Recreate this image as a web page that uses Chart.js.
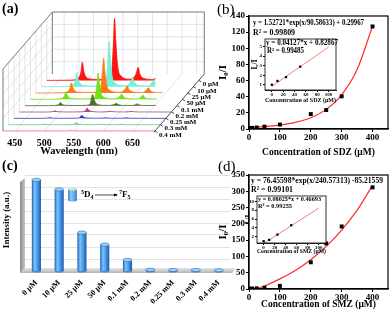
<!DOCTYPE html>
<html>
<head>
<meta charset="utf-8">
<script src="https://cdn.jsdelivr.net/npm/chart.js@4.4.1/dist/chart.umd.min.js"></script>
<style>
body { margin: 0; background: #fff; }
#fig { position: relative; width: 392px; height: 317px; overflow: hidden; background: #fff; }
#fig canvas { position: absolute; }
.tag { position: absolute; font-family: 'Liberation Serif', serif; line-height: 1; color: #000; }
</style>
</head>
<body>
<div id="fig">
  <canvas id="specChart" width="232" height="158" style="left:0;top:0"></canvas>
  <canvas id="barChart" width="240" height="159" style="left:0;top:158px"></canvas>
  <canvas id="sdzChart" width="196" height="158" style="left:196px;top:0"></canvas>
  <canvas id="smzChart" width="196" height="159" style="left:196px;top:158px"></canvas>
  <canvas id="sdzInset" width="92" height="70" style="left:248px;top:35px"></canvas>
  <canvas id="smzInset" width="92" height="66" style="left:240px;top:192px"></canvas>
  <div class="tag" style="left:2px;top:2px;font-size:14px;font-weight:bold">(a)</div>
  <div class="tag" style="left:217px;top:2px;font-size:15px">(b)</div>
  <div class="tag" style="left:2px;top:159px;font-size:14px;font-weight:bold">(c)</div>
  <div class="tag" style="left:218px;top:159px;font-size:15px">(d)</div>
</div>
<script>
// ---- data ----
const concLabels = ['0 μM', '10 μM', '25 μM', '50 μM', '0.1 mM', '0.2 mM', '0.25 mM', '0.3 mM', '0.4 mM'];

// (a) emission spectra (a.u.), one array per concentration
const wavelengths = [430, 470, 480, 485, 488, 490, 493, 497, 505, 525, 535, 540, 543, 545, 547, 550, 556, 570, 578, 582, 585, 588, 595, 608, 615, 618, 621, 624, 632, 645, 649, 652, 660, 688];
const spec0uM   = [0, 0.5, 2, 6, 14, 29, 14, 5, 2, 1.5, 4, 12, 60, 100, 65, 25, 7, 2, 5, 12, 21, 10, 3, 1.5, 4, 10, 16, 7, 2, 1.5, 3, 2, 1, 0];
const spec10uM  = [0, 0.4, 1.5, 4.5, 10, 23, 10, 4, 1.5, 1.1, 3, 9, 44, 73, 47, 18, 5, 1.5, 3.5, 9, 15, 7, 2, 1, 3, 7, 11, 5, 1.5, 1, 2, 1.5, 0.7, 0];
const spec25uM  = [0, 0.3, 1.1, 3.4, 8, 16, 8, 3, 1.1, 0.8, 2.2, 7, 34, 56, 36, 14, 4, 1.1, 2.8, 7, 11.5, 5.5, 1.7, 0.8, 2.2, 5.5, 8.5, 3.9, 1.1, 0.8, 1.7, 1.1, 0.5, 0];
const spec50uM  = [0, 0.2, 0.8, 2.5, 5.8, 12, 5.8, 2.1, 0.8, 0.6, 1.7, 5, 25, 42, 27, 10, 3, 0.8, 2.1, 5, 8.8, 4.2, 1.3, 0.6, 1.7, 4.2, 6.7, 2.9, 0.8, 0.6, 1.3, 0.8, 0.4, 0];
const spec01mM  = [0, 0.1, 0.4, 1.1, 2.5, 5.2, 2.5, 0.9, 0.4, 0.3, 0.7, 2.2, 11, 18, 11.5, 4.5, 1.3, 0.4, 0.9, 2.2, 3.8, 1.8, 0.5, 0.3, 0.7, 1.8, 2.9, 1.3, 0.4, 0.3, 0.5, 0.4, 0.2, 0];
const spec02mM  = [0, 0, 0.1, 0.4, 0.9, 1.9, 0.9, 0.3, 0.1, 0.1, 0.3, 0.8, 3.9, 6.5, 4.2, 1.6, 0.5, 0.1, 0.3, 0.8, 1.4, 0.7, 0.2, 0.1, 0.3, 0.7, 1.0, 0.5, 0.1, 0.1, 0.2, 0.1, 0.1, 0];
const spec025mM = [0, 0, 0.1, 0.3, 0.7, 1.5, 0.7, 0.3, 0.1, 0.1, 0.2, 0.6, 3, 5, 3.2, 1.2, 0.4, 0.1, 0.3, 0.6, 1.1, 0.5, 0.2, 0.1, 0.2, 0.5, 0.8, 0.4, 0.1, 0.1, 0.2, 0.1, 0, 0];
const spec03mM  = [0, 0, 0, 0.2, 0.4, 0.9, 0.4, 0.2, 0, 0, 0.1, 0.4, 1.8, 3, 1.9, 0.7, 0.2, 0, 0.2, 0.4, 0.6, 0.3, 0.1, 0, 0.1, 0.3, 0.5, 0.2, 0, 0, 0.1, 0, 0, 0];
const spec04mM  = [0, 0, 0, 0.1, 0.1, 0.3, 0.1, 0, 0, 0, 0, 0.1, 0.6, 1, 0.6, 0.2, 0.1, 0, 0, 0.1, 0.2, 0.1, 0, 0, 0, 0.1, 0.2, 0.1, 0, 0, 0, 0, 0, 0];
const waveTicks = [450, 500, 550, 600, 650];

// (c) 5D4 -> 7F5 intensity (a.u.)
const peak545 = [7.6, 6.8, 3.2, 2.2, 0.92, 0.1, 0.08, 0.08, 0.06];
const barGrid = [1, 2, 3, 4, 5, 6, 7, 8];

// (b) SDZ
const concSDZ = [0, 10, 25, 50, 100, 200, 250, 300, 400];
const ratioSDZ = [1.0, 1.4, 1.8, 2.9, 5.5, 18.5, 23.5, 40.5, 127];
const fitSDZx = [0, 50, 100, 150, 200, 250, 300, 350, 400];
const fitSDZy = [1.8, 2.9, 4.9, 8.2, 14.0, 24.3, 42.3, 73.6, 127.6];
const lowSDZx = [0, 10, 25, 50];
const lowSDZy = [1.0, 1.4, 1.8, 2.9];
const linSDZx = [0, 100];
const linSDZy = [0.83, 4.96];
const sdzYTicks = [0, 20, 40, 60, 80, 100, 120, 140];
const sdzInsetYTicks = [1, 2, 3, 4, 5];

// (d) SMZ
const concSMZ = [0, 10, 25, 50, 100, 200, 250, 300, 400];
const ratioSMZ = [1.0, 1.5, 2.0, 4.0, 9.5, 82, 140, 192, 312];
const fitSMZx = [25, 50, 100, 150, 200, 250, 300, 350, 400];
const fitSMZy = [0, 9, 31, 57, 90, 131, 181, 242, 318];
const lowSMZx = [0, 10, 25, 50];
const lowSMZy = [1.0, 1.3, 2.5, 4.6];
const linSMZx = [0, 100];
const linSMZy = [0.47, 8.49];
const smzYTicks = [0, 50, 100, 150, 200, 250, 300, 350];
const smzInsetYTicks = [2, 4, 6, 8, 10];

const concTicks = [0, 100, 200, 300, 400];
const lowConcTicks = [0, 20, 40, 60, 80, 100];

// ---- shared setup ----
const serif = "'Liberation Serif', 'DejaVu Serif', serif";
Chart.defaults.font.family = serif;
Chart.defaults.color = '#000';
Chart.defaults.animation = false;
Chart.defaults.responsive = false;
Chart.defaults.maintainAspectRatio = false;
Chart.defaults.devicePixelRatio = 1;
Chart.defaults.events = [];
Chart.defaults.plugins.legend.display = false;
Chart.defaults.plugins.tooltip.enabled = false;

const pts = (xs, ys) => xs.map((x, i) => ({ x, y: ys[i] }));
const fixTicks = list => s => { s.ticks = list.map(v => ({ value: v })); };

function boxPlugin(width, white) {
  return {
    id: 'box',
    beforeDatasetsDraw(chart) {
      if (!white) return;
      const { ctx, chartArea: a } = chart;
      ctx.save();
      ctx.fillStyle = '#fff';
      ctx.fillRect(a.left, a.top, a.right - a.left, a.bottom - a.top);
      ctx.restore();
    },
    afterDatasetsDraw(chart) {
      const { ctx, chartArea: a } = chart;
      ctx.save();
      ctx.strokeStyle = '#000';
      ctx.lineWidth = width;
      ctx.strokeRect(a.left, a.top, a.right - a.left, a.bottom - a.top);
      ctx.restore();
    }
  };
}

function textPlugin(items) {
  return {
    id: 'eqText',
    afterDatasetsDraw(chart) {
      const { ctx, chartArea: a } = chart;
      ctx.save();
      ctx.fillStyle = '#000';
      ctx.textBaseline = 'middle';
      items.forEach(t => {
        ctx.font = `bold ${t.size}px ${serif}`;
        ctx.fillText(t.text, a.left + t.dx, a.top + t.dy, t.w);
      });
      ctx.restore();
    }
  };
}

function fitChart(id, cfg) {
  return new Chart(document.getElementById(id), {
    type: 'scatter',
    data: {
      datasets: [
        { type: 'line', data: pts(cfg.fitX, cfg.fitY), borderColor: cfg.lineColor, borderWidth: cfg.lineWidth,
          pointRadius: 0, cubicInterpolationMode: 'monotone', fill: false, order: 2 },
        { data: pts(cfg.x, cfg.y), pointStyle: 'rect', pointRadius: cfg.pointRadius,
          backgroundColor: '#000', borderColor: '#000', borderWidth: 0, order: 1 }
      ]
    },
    options: {
      layout: { padding: cfg.padding },
      scales: {
        x: {
          type: 'linear', min: cfg.xMin, max: cfg.xMax,
          afterBuildTicks: fixTicks(cfg.xTicks), afterFit: s => { s.height = cfg.xHeight; },
          ticks: { font: { size: cfg.tickSize, weight: 'bold' }, padding: cfg.tickPad, maxRotation: 0, autoSkip: false },
          grid: { drawOnChartArea: false, tickLength: cfg.tickLen, color: '#000' },
          border: { color: '#000', width: cfg.border },
          title: { display: true, text: cfg.xTitle, font: { size: cfg.xTitleSize, weight: 'bold' }, padding: { top: 0, bottom: cfg.xTitlePad } }
        },
        y: {
          type: 'linear', min: cfg.yMin, max: cfg.yMax,
          afterBuildTicks: fixTicks(cfg.yTicks), afterFit: s => { s.width = cfg.yWidth; },
          ticks: { font: { size: cfg.tickSize, weight: 'bold' }, padding: cfg.tickPad + 1, autoSkip: false },
          grid: { drawOnChartArea: false, tickLength: cfg.tickLen, color: '#000' },
          border: { color: '#000', width: cfg.border },
          title: { display: true, text: 'I₀/I', font: { size: cfg.yTitleSize, weight: 'bold' }, padding: { top: cfg.yTitlePad, bottom: 0 } }
        }
      }
    },
    plugins: [boxPlugin(cfg.border, cfg.white), textPlugin(cfg.texts)]
  });
}

// ---- (a) waterfall spectra ----
const spectra = [spec0uM, spec10uM, spec25uM, spec50uM, spec01mM, spec02mM, spec025mM, spec03mM, spec04mM];
const lineColors = ['#ff1414', '#74f0d6', '#ff7a12', '#72e01c', '#4f6b35', '#a84a86', '#2a3cc8', '#66cc99', '#ff5c9d'];
const depthStepNm = 9.3, depthStepVal = 10.2;
const waveMin = 430, waveMax = 688, valMax = 187, boxTop = 100, depthBack = 9;

const specScales = {}, specSets = [];
for (let k = 0; k < spectra.length; k++) {
  const i = spectra.length - 1 - k;   // k = 0 is the front row
  const front = k === 0;
  specScales['x' + k] = {
    type: 'linear', axis: 'x', position: 'bottom', display: front,
    min: waveMin - k * depthStepNm, max: waveMax - k * depthStepNm,
    afterBuildTicks: fixTicks(waveTicks),
    afterFit: s => { s.height = front ? 27 : 0; },
    grid: { display: false, drawTicks: false }, border: { display: false },
    ticks: { font: { size: 10, weight: 'bold' }, padding: 6, maxRotation: 0, autoSkip: false },
    title: { display: front, text: 'Wavelength (nm)', font: { size: 10.5, weight: 'bold' }, padding: { top: 0, bottom: 0 } }
  };
  specScales['y' + k] = {
    type: 'linear', axis: 'y', position: 'left', display: false,
    min: -k * depthStepVal, max: valMax - k * depthStepVal,
    afterFit: s => { s.width = 0; }
  };
  specSets.push({
    label: concLabels[i], data: pts(wavelengths, spectra[i]),
    xAxisID: 'x' + k, yAxisID: 'y' + k,
    borderColor: lineColors[i], backgroundColor: lineColors[i], borderWidth: 0.8,
    pointRadius: 0, fill: { value: 0 }, clip: false, cubicInterpolationMode: 'monotone'
  });
}

function depthPoint(chart) {
  const x0 = chart.scales.x0, y0 = chart.scales.y0, x1 = chart.scales.x1, y1 = chart.scales.y1;
  const dx = x1.getPixelForValue(waveMin) - x0.getPixelForValue(waveMin);
  const dy = y1.getPixelForValue(0) - y0.getPixelForValue(0);
  return (k, w, v) => ({ x: x0.getPixelForValue(w) + k * dx, y: y0.getPixelForValue(v) + k * dy });
}

function seg(ctx, a, b) {
  ctx.beginPath(); ctx.moveTo(a.x, a.y); ctx.lineTo(b.x, b.y); ctx.stroke();
}

const depthBox = {
  id: 'depthBox',
  beforeDatasetsDraw(chart) {
    const ctx = chart.ctx, P = depthPoint(chart);
    ctx.save();
    ctx.lineWidth = 0.6;
    ctx.strokeStyle = '#d2d2d2';
    for (let w = 450; w < waveMax; w += 25) seg(ctx, P(depthBack, w, 0), P(depthBack, w, boxTop));
    for (let v = 20; v < boxTop; v += 20) {
      seg(ctx, P(depthBack, waveMin, v), P(depthBack, waveMax, v));
      seg(ctx, P(0, waveMin, v), P(depthBack, waveMin, v));
    }
    for (let k = 1; k < depthBack; k++) seg(ctx, P(k, waveMin, 0), P(k, waveMin, boxTop));
    for (let w = 450; w < waveMax; w += 50) seg(ctx, P(0, w, 0), P(depthBack, w, 0));
    ctx.strokeStyle = '#6a6a6a';
    ctx.lineWidth = 0.9;
    const edge = [P(0, waveMin, 0), P(0, waveMin, boxTop), P(depthBack, waveMin, boxTop), P(depthBack, waveMax, boxTop), P(depthBack, waveMax, 0)];
    ctx.beginPath();
    edge.forEach((p, j) => j ? ctx.lineTo(p.x, p.y) : ctx.moveTo(p.x, p.y));
    ctx.stroke();
    seg(ctx, P(depthBack, waveMin, boxTop), P(depthBack, waveMin, 0));
    ctx.restore();
  },
  afterDatasetsDraw(chart) {
    const ctx = chart.ctx, P = depthPoint(chart);
    ctx.save();
    ctx.strokeStyle = '#222';
    ctx.lineWidth = 0.8;
    seg(ctx, P(-0.2, waveMax, 0), P(depthBack, waveMax, 0));
    ctx.font = `bold 7px ${serif}`;
    ctx.fillStyle = '#000';
    ctx.textBaseline = 'middle';
    for (let k = 0; k < spectra.length; k++) {
      const p = P(k, waveMax, 0);
      seg(ctx, p, { x: p.x + 2.5, y: p.y + 1.5 });
      ctx.fillText(concLabels[spectra.length - 1 - k], p.x + 4, p.y + 4);
    }
    ctx.restore();
  }
};

new Chart(document.getElementById('specChart'), {
  type: 'line',
  data: { datasets: specSets },
  options: {
    layout: { padding: { left: 3, right: 77, top: 15, bottom: 0 } },
    scales: specScales
  },
  plugins: [depthBox]
});

// ---- (c) cylinder bars ----
function cylinderShade(c) {
  const chart = c.chart, xs = chart.scales.x;
  const flat = '#4a9be8';
  if (!xs || c.dataIndex === undefined) return flat;
  const cx = xs.getPixelForValue(c.dataIndex);
  const half = (xs.getPixelForValue(1) - xs.getPixelForValue(0)) * 0.2;
  if (!isFinite(cx) || !isFinite(half) || half <= 0) return flat;
  const g = chart.ctx.createLinearGradient(cx - half, 0, cx + half, 0);
  g.addColorStop(0, '#1d5fb4');
  g.addColorStop(0.3, '#7fc2f8');
  g.addColorStop(0.6, '#4a9de9');
  g.addColorStop(1, '#1a58a8');
  return g;
}

const wallsC = {
  id: 'wallsC',
  beforeDatasetsDraw(chart) {
    const { ctx, chartArea: a } = chart;
    ctx.save();
    let g = ctx.createLinearGradient(a.left - 5, 0, a.left, 0);
    g.addColorStop(0, '#8a8a8a');
    g.addColorStop(1, '#c6c6c6');
    ctx.fillStyle = g;
    ctx.beginPath();
    ctx.moveTo(a.left - 5, a.bottom + 2); ctx.lineTo(a.left - 5, a.top + 13);
    ctx.lineTo(a.left, a.top + 9); ctx.lineTo(a.left, a.bottom - 3);
    ctx.closePath(); ctx.fill();
    g = ctx.createLinearGradient(0, a.bottom - 3, 0, a.bottom + 2);
    g.addColorStop(0, '#e6e6e6');
    g.addColorStop(1, '#b4b4b4');
    ctx.fillStyle = g;
    ctx.beginPath();
    ctx.moveTo(a.left - 5, a.bottom + 2); ctx.lineTo(a.right + 2, a.bottom + 2);
    ctx.lineTo(a.right + 6, a.bottom - 3); ctx.lineTo(a.left, a.bottom - 3);
    ctx.closePath(); ctx.fill();
    ctx.restore();
  }
};

const cylinders = {
  id: 'cylinders',
  afterDatasetsDraw(chart) {
    const ctx = chart.ctx;
    ctx.save();
    chart.getDatasetMeta(0).data.forEach(el => {
      const rx = el.width / 2;
      ctx.fillStyle = '#3f8fe0';
      ctx.beginPath(); ctx.ellipse(el.x, el.base, rx, 1.6, 0, 0, Math.PI); ctx.fill();
      ctx.fillStyle = '#a3d3fb';
      ctx.strokeStyle = '#2262b0';
      ctx.lineWidth = 0.6;
      ctx.beginPath(); ctx.ellipse(el.x, el.y, rx, 1.6, 0, 0, Math.PI * 2); ctx.fill(); ctx.stroke();
    });
    ctx.restore();
  }
};

const legendC = {
  id: 'legendC',
  afterDraw(chart) {
    const { ctx, chartArea: a } = chart;
    const x = a.left + 43, y = a.top + 25;
    ctx.save();
    const g = ctx.createLinearGradient(x, 0, x + 9, 0);
    g.addColorStop(0, '#3b86d8'); g.addColorStop(0.35, '#8cc8f8'); g.addColorStop(1, '#3a86d6');
    ctx.fillStyle = g;
    ctx.fillRect(x, y - 5, 9, 11);
    ctx.beginPath(); ctx.ellipse(x + 4.5, y + 6, 4.5, 1.5, 0, 0, Math.PI); ctx.fill();
    ctx.fillStyle = '#cfe6c8';
    ctx.beginPath(); ctx.ellipse(x + 4.5, y - 5, 4.5, 1.5, 0, 0, Math.PI * 2); ctx.fill();
    ctx.fillStyle = '#000';
    ctx.textBaseline = 'middle';
    ctx.font = `bold 6px ${serif}`; ctx.fillText('5', x + 13, y - 2);
    ctx.font = `bold 9px ${serif}`; ctx.fillText('D', x + 16, y + 1);
    ctx.font = `bold 6px ${serif}`; ctx.fillText('4', x + 22.5, y + 3);
    ctx.strokeStyle = '#000'; ctx.lineWidth = 0.7;
    seg(ctx, { x: x + 27, y: y + 1 }, { x: x + 49, y: y + 1 });
    ctx.beginPath(); ctx.moveTo(x + 50, y + 1); ctx.lineTo(x + 46, y - 0.5); ctx.lineTo(x + 46, y + 2.5); ctx.closePath(); ctx.fill();
    ctx.font = `bold 6px ${serif}`; ctx.fillText('7', x + 51, y - 2);
    ctx.font = `bold 9px ${serif}`; ctx.fillText('F', x + 54, y + 1);
    ctx.font = `bold 6px ${serif}`; ctx.fillText('5', x + 59.5, y + 3);
    ctx.restore();
  }
};

new Chart(document.getElementById('barChart'), {
  type: 'bar',
  data: {
    labels: concLabels,
    datasets: [{ data: peak545, backgroundColor: cylinderShade, borderWidth: 0, barPercentage: 0.4, categoryPercentage: 1 }]
  },
  options: {
    layout: { padding: { left: 0, right: 10, top: 11, bottom: 0 } },
    scales: {
      x: {
        grid: { display: false, drawTicks: false }, border: { display: false },
        ticks: { font: { size: 8, weight: 'bold' }, minRotation: 45, maxRotation: 45, padding: 7, autoSkip: false },
        afterFit: s => { s.height = 46; }
      },
      y: {
        min: 0, max: 8.5, afterBuildTicks: fixTicks(barGrid),
        ticks: { display: false },
        grid: { color: '#dadada', drawTicks: false, lineWidth: 0.8 },
        border: { display: false },
        title: { display: true, text: 'Intensity (a.u.)', font: { size: 9, weight: 'bold' }, padding: { top: 1, bottom: 0 } },
        afterFit: s => { s.width = 25; }
      }
    }
  },
  plugins: [wallsC, cylinders, legendC]
});

// ---- (b) SDZ ----
fitChart('sdzChart', {
  x: concSDZ, y: ratioSDZ, fitX: fitSDZx, fitY: fitSDZy,
  lineColor: '#ff2a2a', lineWidth: 1.2, pointRadius: 2.8,
  padding: { left: 0, right: 3, top: 16, bottom: 0 },
  xMin: 0, xMax: 450, xTicks: concTicks, xHeight: 29,
  yMin: 0, yMax: 140, yTicks: sdzYTicks, yWidth: 53,
  tickSize: 9, tickPad: 0, tickLen: 3, border: 1.2,
  xTitle: 'Concentration of SDZ (μM)', xTitleSize: 9.5, xTitlePad: 0,
  yTitleSize: 11, yTitlePad: 21, white: false,
  texts: [
    { text: 'y = 1.52721*exp(x/90.58633) + 0.29967', dx: 4, dy: 7, size: 9, w: 111 },
    { text: 'R² = 0.99809', dx: 4, dy: 17, size: 9, w: 42 }
  ]
});

fitChart('sdzInset', {
  x: lowSDZx, y: lowSDZy, fitX: linSDZx, fitY: linSDZy,
  lineColor: '#f07070', lineWidth: 0.9, pointRadius: 1.6,
  padding: { left: 0, right: 2, top: 3, bottom: 0 },
  xMin: -12, xMax: 113, xTicks: lowConcTicks, xHeight: 15,
  yMin: 0.45, yMax: 5.8, yTicks: sdzInsetYTicks, yWidth: 17,
  tickSize: 5, tickPad: 0, tickLen: 2, border: 0.8,
  xTitle: 'Concentration of SDZ (μM)', xTitleSize: 6.5, xTitlePad: 1,
  yTitleSize: 7.5, yTitlePad: 3, white: true,
  texts: [
    { text: 'y = 0.04127*x + 0.82867', dx: 1, dy: 4, size: 7.5, w: 72 },
    { text: 'R² = 0.99485', dx: 2, dy: 12, size: 7.5, w: 37 }
  ]
});

// ---- (d) SMZ ----
fitChart('smzChart', {
  x: concSMZ, y: ratioSMZ, fitX: fitSMZx, fitY: fitSMZy,
  lineColor: '#ff2a2a', lineWidth: 1.2, pointRadius: 2.8,
  padding: { left: 0, right: 3, top: 17, bottom: 0 },
  xMin: 0, xMax: 450, xTicks: concTicks, xHeight: 28,
  yMin: 0, yMax: 350, yTicks: smzYTicks, yWidth: 53,
  tickSize: 9, tickPad: 0, tickLen: 3, border: 1.2,
  xTitle: 'Concentration of SMZ (μM)', xTitleSize: 9.5, xTitlePad: 7,
  yTitleSize: 11, yTitlePad: 21, white: false,
  texts: [
    { text: 'y = 76.45598*exp(x/240.57313) -85.21559', dx: 2, dy: 6, size: 9, w: 132 },
    { text: 'R² = 0.99101', dx: 2, dy: 15, size: 9, w: 42 }
  ]
});

fitChart('smzInset', {
  x: lowSMZx, y: lowSMZy, fitX: linSMZx, fitY: linSMZy,
  lineColor: '#f07070', lineWidth: 0.9, pointRadius: 1.6,
  padding: { left: 0, right: 6, top: 3, bottom: 0 },
  xMin: -12, xMax: 113, xTicks: lowConcTicks, xHeight: 15,
  yMin: 0.6, yMax: 11.2, yTicks: smzInsetYTicks, yWidth: 17,
  tickSize: 5, tickPad: 0, tickLen: 2, border: 0.8,
  xTitle: 'Concentration of SMZ (μM)', xTitleSize: 6, xTitlePad: 3,
  yTitleSize: 7, yTitlePad: 3, white: true,
  texts: [
    { text: 'y = 0.08025*x + 0.46693', dx: 1, dy: 3, size: 6.5, w: 63 },
    { text: 'R² = 0.99255', dx: 1, dy: 10, size: 6.5, w: 34 }
  ]
});
</script>
</body>
</html>
